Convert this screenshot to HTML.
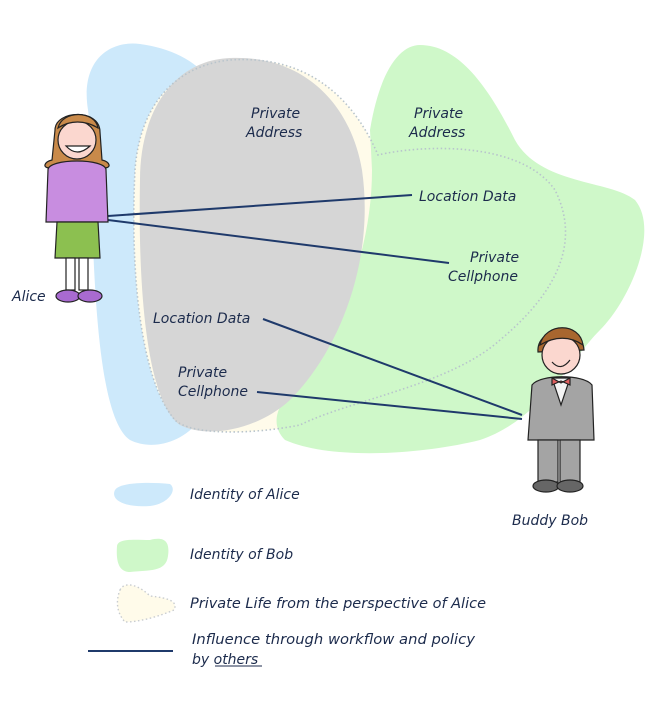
<!DOCTYPE html>
<html><head><meta charset="utf-8"><style>
html,body{margin:0;padding:0;background:#fff;width:668px;height:712px;overflow:hidden}
svg text{font-family:"DejaVu Sans","Liberation Sans",sans-serif;font-style:italic;font-size:14px;fill:#1c2b4c}
</style></head><body>
<svg width="668" height="712" viewBox="0 0 668 712" xmlns="http://www.w3.org/2000/svg">
<!-- Alice blob -->
<path d="M88,110 C80,60 110,40 140,44 C170,48 195,60 210,80 L220,120 C180,200 150,300 200,420 C180,445 150,450 130,440 C100,420 95,300 92,220 C90,170 92,140 88,110Z" fill="#cde9fb"/>
<!-- private life cream fill -->
<path id="pl" d="M135,170 C140,100 180,65 230,60 C300,55 350,90 378,155 C420,145 520,140 555,190 C580,240 560,290 500,340 C450,385 350,400 300,425 C250,435 190,435 175,420 C140,380 130,270 135,170Z" fill="#fffbea"/>
<!-- Bob blob -->
<path d="M370,130 C380,70 400,45 420,45 C460,45 490,90 515,140 C540,185 610,180 635,200 C660,230 630,300 600,330 C570,360 540,420 480,440 C420,455 330,460 285,440 C270,425 275,405 300,380 C340,330 372,250 372,170Z" fill="#cff8c9"/>
<!-- gray overlap -->
<path d="M140,180 C140,110 175,60 230,58 C300,55 350,100 362,170 C375,260 340,350 290,400 C260,428 210,440 180,425 C145,400 138,280 140,180Z" fill="#d6d6d6"/>
<path d="M135,170 C140,100 180,65 230,60 C300,55 350,90 378,155 C420,145 520,140 555,190 C580,240 560,290 500,340 C450,385 350,400 300,425 C250,435 190,435 175,420 C140,380 130,270 135,170Z" fill="none" stroke="#b8c4cc" stroke-width="1.6" stroke-dasharray="1.5,2.5"/>
<!-- labels -->
<text x="251" y="118">Private</text><text x="246" y="137">Address</text>
<text x="414" y="118">Private</text><text x="409" y="137">Address</text>
<text x="419" y="201">Location Data</text>
<text x="470" y="262">Private</text><text x="448" y="281">Cellphone</text>
<text x="153" y="323">Location Data</text>
<text x="178" y="377">Private</text><text x="178" y="396">Cellphone</text>
<text x="12" y="301">Alice</text>
<text x="512" y="525">Buddy Bob</text>
<!-- lines -->
<g stroke="#1f3a6b" stroke-width="2" fill="none">
<line x1="108" y1="216" x2="412" y2="195"/>
<line x1="108" y1="220" x2="449" y2="263"/>
<line x1="263" y1="319" x2="522" y2="415"/>
<line x1="257" y1="392" x2="522" y2="419"/>
<line x1="88" y1="651" x2="173" y2="651"/>
</g>
<!-- Alice figure -->
<g stroke="#222" stroke-width="1.2">
<path d="M55,130 C55,110 100,108 100,132 L102,160 C110,162 112,168 104,168 L50,168 C42,168 44,162 52,160Z" fill="#c98a4a"/>
<circle cx="77" cy="140" r="19" fill="#fbd7cf"/>
<path d="M58,128 C62,110 95,110 98,128 C85,120 70,120 58,128Z" fill="#c98a4a"/>
<path d="M66,146 Q77,158 90,146Z" fill="#fff"/>
<path d="M48,170 C48,158 106,158 106,170 L108,222 L46,222Z" fill="#c88de0"/>
<path d="M57,222 L98,222 L100,258 L55,258Z" fill="#8cc050"/>
<rect x="66" y="258" width="9" height="32" fill="#fff"/>
<rect x="79" y="258" width="9" height="32" fill="#fff"/>
<ellipse cx="68" cy="296" rx="12" ry="6" fill="#a86ad0"/>
<ellipse cx="90" cy="296" rx="12" ry="6" fill="#a86ad0"/>
</g>
<!-- Bob figure -->
<g stroke="#222" stroke-width="1.2">
<path d="M538,352 C536,326 582,322 584,350 Z" fill="#a8662f"/>
<circle cx="561" cy="355" r="19" fill="#fbd7cf"/>
<path d="M540,345 C545,322 580,322 583,345 C570,336 555,336 540,345Z" fill="#a8662f"/>
<path d="M552,362 Q561,372 570,360" fill="none"/>
<path d="M532,385 C540,374 584,374 592,385 L594,440 L528,440Z" fill="#a4a4a4"/>
<path d="M552,378 L561,405 L570,378Z" fill="#f4f4f4"/>
<path d="M552,378 L561,383 L570,378 L570,385 L561,381 L552,385Z" fill="#e06060"/>
<rect x="538" y="440" width="20" height="42" fill="#a4a4a4"/>
<rect x="560" y="440" width="20" height="42" fill="#a4a4a4"/>
<ellipse cx="546" cy="486" rx="13" ry="6" fill="#666"/>
<ellipse cx="570" cy="486" rx="13" ry="6" fill="#666"/>
</g>
<!-- legend -->
<path d="M115,490 C120,482 150,482 170,484 C178,490 168,504 150,506 C125,508 110,500 115,490Z" fill="#cde9fb"/>
<path d="M117,546 C118,538 135,540 150,540 C165,536 170,542 168,556 C166,572 150,570 130,572 C118,572 116,560 117,546Z" fill="#cff8c9"/>
<path d="M120,590 C125,580 140,586 150,596 C170,598 178,602 174,610 C160,616 140,622 125,622 C116,612 116,600 120,590Z" fill="#fffbea" stroke="#c8ccd0" stroke-width="1.4" stroke-dasharray="1.5,2.5"/>
<text x="190" y="499">Identity of Alice</text>
<text x="190" y="559">Identity of Bob</text>
<text x="190" y="608" textLength="296" lengthAdjust="spacingAndGlyphs">Private Life from the perspective of Alice</text>
<text x="192" y="644" textLength="283" lengthAdjust="spacingAndGlyphs">Influence through workflow and policy</text>
<text x="192" y="664">by others</text>
<line x1="215" y1="666" x2="262" y2="666" stroke="#1c2b4c" stroke-width="1"/>
</svg>
</body></html>
